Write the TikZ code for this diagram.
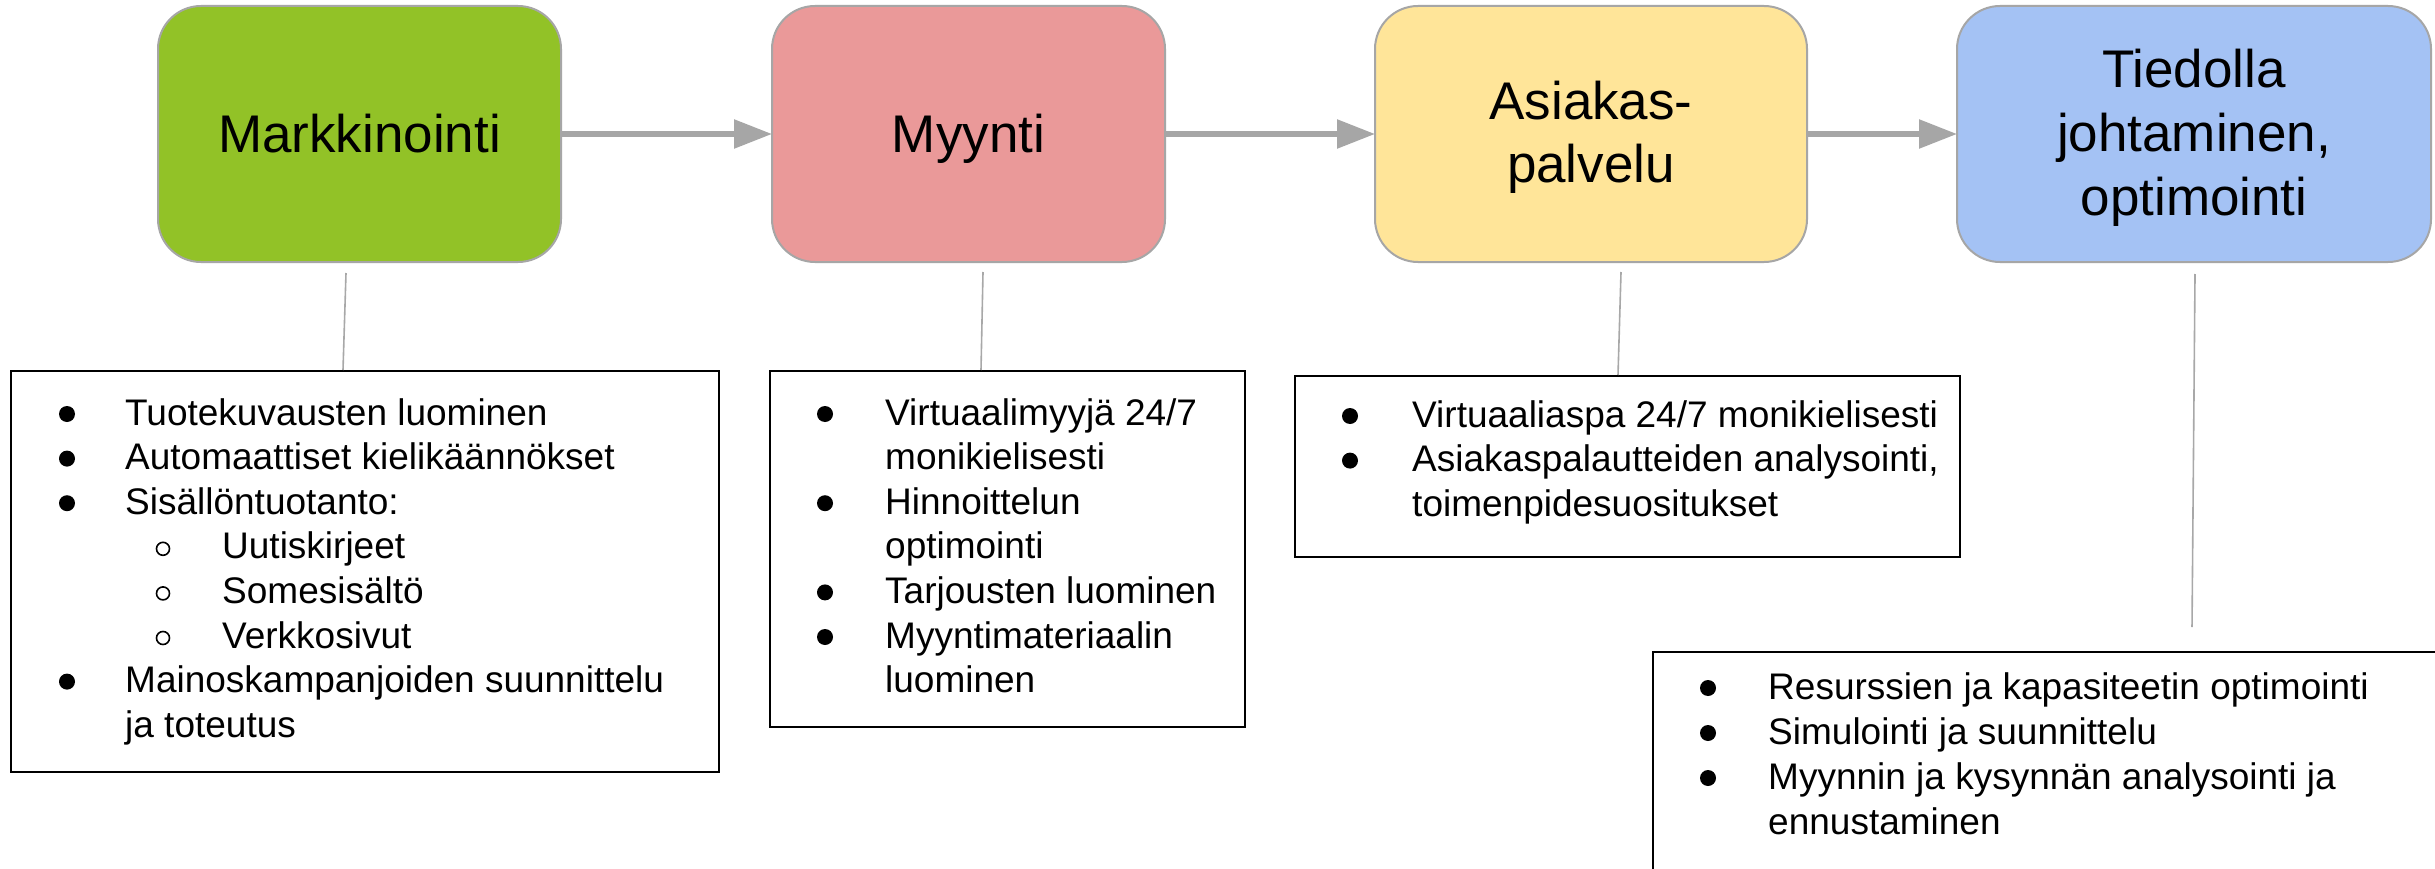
\documentclass[tikz,border=0pt]{standalone}
\usepackage{fontspec}
\setmainfont{Liberation Sans}
\usetikzlibrary{arrows.meta}
\definecolor{cgreen}{HTML}{92C227}
\definecolor{cpink}{HTML}{EA9999}
\definecolor{cyellow}{HTML}{FFE599}
\definecolor{cblue}{HTML}{A4C2F4}
\definecolor{cborder}{HTML}{A6A6A6}
\definecolor{carrow}{HTML}{A6A6A6}
\definecolor{cconn}{HTML}{A8A8A8}
\begin{document}
\begin{tikzpicture}[x=1pt,y=-1pt,
  topbox/.style={draw=cborder, line width=2pt, rounded corners=43pt, minimum width=#1, minimum height=256pt, inner sep=0pt, outer sep=0pt},
  listbox/.style={draw=black, line width=2pt, inner sep=0pt, outer sep=0pt},
  ttl/.style={anchor=base, inner sep=0pt, font=\fontsize{53}{63}\selectfont},
  li/.style={anchor=base west, inner sep=0pt, font=\fontsize{37}{44.6}\selectfont},
  arr/.style={draw=carrow, line width=5.5pt, -{Triangle[length=38pt,width=28pt]}},
  conn/.style={draw=cconn, line width=1.6pt},
  blt/.style={fill=black},
  sblt/.style={draw=black, line width=1.6pt}
]
\fill[white] (0,0) rectangle (2435,869);
\useasboundingbox (0,0) rectangle (2435,869);

% top boxes
\node[topbox=403pt, fill=cgreen] (mark) at (359.5,134) {};
\node[topbox=393pt, fill=cpink] (myyn) at (968.5,134) {};
\node[topbox=432pt, fill=cyellow] (asia) at (1591,134) {};
\node[topbox=474pt, fill=cblue] (tied) at (2194,134) {};

\node[ttl] (t1) at (359.5,153) {Markkinointi};
\node[ttl] (t2) at (968.5,153) {Myynti};
\node[ttl] (t3a) at (1591,120) {Asiakas-};
\node[ttl] (t3b) at (1591,183) {palvelu};
\node[ttl] (t4a) at (2194,88) {Tiedolla};
\node[ttl] (t4b) at (2194,152) {johtaminen,};
\node[ttl] (t4c) at (2194,215) {optimointi};

% arrows
\draw[arr] (mark.east) -- (myyn.west);
\draw[arr] (myyn.east) -- (asia.west);
\draw[arr] (asia.east) -- (tied.west);

% list boxes
\node[listbox, minimum width=708.5pt, minimum height=401pt] (L1) at (364.75,571.5) {};
\node[listbox, minimum width=475pt, minimum height=356pt] (L2) at (1007.5,549) {};
\node[listbox, minimum width=665pt, minimum height=181pt] (L3) at (1627.5,466.5) {};
\node[listbox, minimum width=792pt, minimum height=233pt] (L4) at (2049,768.5) {};

% connectors
\coordinate (c1a) at (346,273); \coordinate (c1b) at (343,370);
\coordinate (c2a) at (983,272); \coordinate (c2b) at (981,370);
\coordinate (c3a) at (1621,272); \coordinate (c3b) at (1618,375);
\coordinate (c4a) at (2195,274); \coordinate (c4b) at (2192,627);
\draw[conn] (c1a) -- (c1b);
\draw[conn] (c2a) -- (c2b);
\draw[conn] (c3a) -- (c3b);
\draw[conn] (c4a) -- (c4b);

% list 1
\fill[blt] (67,414) circle (8pt);
\node[li] (a1) at (125,425) {Tuotekuvausten luominen};
\fill[blt] (67,458.6) circle (8pt);
\node[li] (a2) at (125,469.6) {Automaattiset kielikäännökset};
\fill[blt] (67,503.2) circle (8pt);
\node[li] (a3) at (125,514.2) {Sisällöntuotanto:};
\draw[sblt] (163,548.8) circle (6.5pt);
\node[li] (a4) at (222,558.8) {Uutiskirjeet};
\draw[sblt] (163,593.4) circle (6.5pt);
\node[li] (a5) at (222,603.4) {Somesisältö};
\draw[sblt] (163,638) circle (6.5pt);
\node[li] (a6) at (222,648) {Verkkosivut};
\fill[blt] (67,681.6) circle (8pt);
\node[li] (a7) at (125,692.6) {Mainoskampanjoiden suunnittelu};
\node[li] (a8) at (125,737.2) {ja toteutus};

% list 2
\fill[blt] (825,414) circle (8pt);
\node[li] (b1) at (885,425) {Virtuaalimyyjä 24/7};
\node[li] (b2) at (885,469.6) {monikielisesti};
\fill[blt] (825,503.2) circle (8pt);
\node[li] (b3) at (885,514.2) {Hinnoittelun};
\node[li] (b4) at (885,558.8) {optimointi};
\fill[blt] (825,592.4) circle (8pt);
\node[li] (b5) at (885,603.4) {Tarjousten luominen};
\fill[blt] (825,637) circle (8pt);
\node[li] (b6) at (885,648) {Myyntimateriaalin};
\node[li] (b7) at (885,692.6) {luominen};

% list 3
\fill[blt] (1350,416) circle (8pt);
\node[li] (d1) at (1412,427) {Virtuaaliaspa 24/7 monikielisesti};
\fill[blt] (1350,460.6) circle (8pt);
\node[li] (d2) at (1412,471.6) {Asiakaspalautteiden analysointi,};
\node[li] (d3) at (1412,516.2) {toimenpidesuositukset};

% list 4
\fill[blt] (1708,688) circle (8pt);
\node[li] (e1) at (1768,699) {Resurssien ja kapasiteetin optimointi};
\fill[blt] (1708,733) circle (8pt);
\node[li] (e2) at (1768,744) {Simulointi ja suunnittelu};
\fill[blt] (1708,778) circle (8pt);
\node[li] (e3) at (1768,789) {Myynnin ja kysynnän analysointi ja};
\node[li] (e4) at (1768,834) {ennustaminen};
\end{tikzpicture}
\end{document}
